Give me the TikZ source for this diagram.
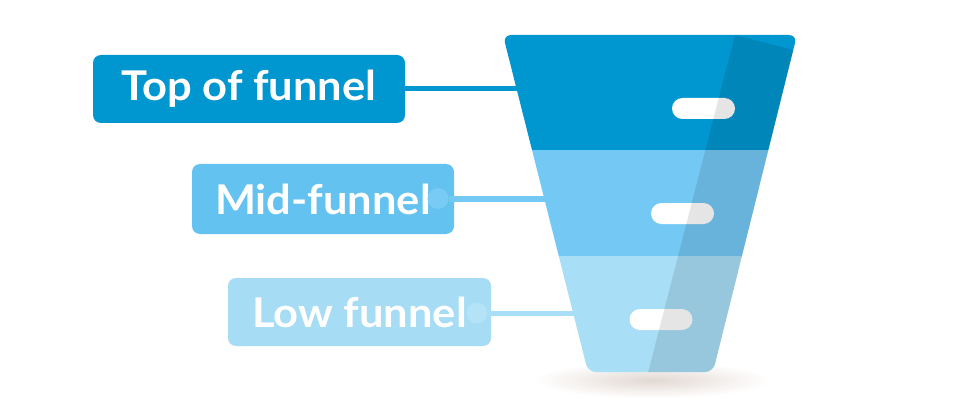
\documentclass[tikz,border=0pt]{standalone}
\usepackage{fontspec}
\setmainfont{Lato}[FakeStretch=1.06]
\definecolor{topc}{RGB}{0,150,207}
\definecolor{midc}{RGB}{116,200,244}
\definecolor{lowc}{RGB}{168,222,246}
\definecolor{midbox}{RGB}{100,194,240}
\definecolor{lowbox}{RGB}{166,220,244}
\definecolor{midcirc}{RGB}{120,203,245}
\definecolor{lowcirc}{RGB}{180,227,247}
\definecolor{shadowc}{RGB}{226,216,210}
\tikzset{
  labelbox/.style={rounded corners=8pt, text=white, inner sep=0pt,
    font=\fontsize{41}{41}\selectfont\bfseries},
  knob/.style={circle, inner sep=0pt, minimum size=21pt},
  pill/.style={fill=white, rounded corners=10.5pt, inner sep=0pt,
    minimum width=63pt, minimum height=21pt},
}
\begin{document}
\begin{tikzpicture}[x=1pt,y=-1pt]
\useasboundingbox (0,0) rectangle (960,406);
\fill[white] (0,0) rectangle (960,406);
% shadow
\shade[inner color=shadowc, outer color=white] (652,380) ellipse [x radius=118, y radius=18];
% label boxes
\node[labelbox, fill=topc, minimum width=312pt, minimum height=68pt] (top) at (249,89) {Top of funnel};
\node[labelbox, fill=midbox, minimum width=262pt, minimum height=70pt] (mid) at (323,199) {Mid-funnel};
\node[labelbox, fill=lowbox, minimum width=263pt, minimum height=68pt] (low) at (359.5,312) {Low funnel};
\node[knob, fill=midcirc] (midk) at (438,198.5) {};
\node[knob, fill=lowcirc] (lowk) at (477,313) {};
% connectors
\coordinate (topend) at (525,89);
\coordinate (midend) at (550,198.5);
\coordinate (lowend) at (580,313);
\draw[topc, line width=5pt] (top.east) -- (topend);
\draw[midc, line width=6pt] (midk.east) -- (midend);
\draw[lowc, line width=5pt] (lowk.east) -- (lowend);
% funnel
\begin{scope}
\clip[rounded corners=8pt] (503,35) -- (797,35) -- (713,372) -- (588,372) -- cycle;
\fill[topc] (480,20) rectangle (820,150);
\fill[midc] (480,150) rectangle (820,256);
\fill[lowc] (480,256) rectangle (820,400);
\node[pill] (p1) at (703.5,108.5) {};
\node[pill] (p2) at (682.5,213.5) {};
\node[pill] (p3) at (661,319.5) {};
\fill[black, opacity=0.1] (735,35) -- (805,53) -- (805,400) -- (641,400) -- cycle;
\end{scope}
\end{tikzpicture}
\end{document}
